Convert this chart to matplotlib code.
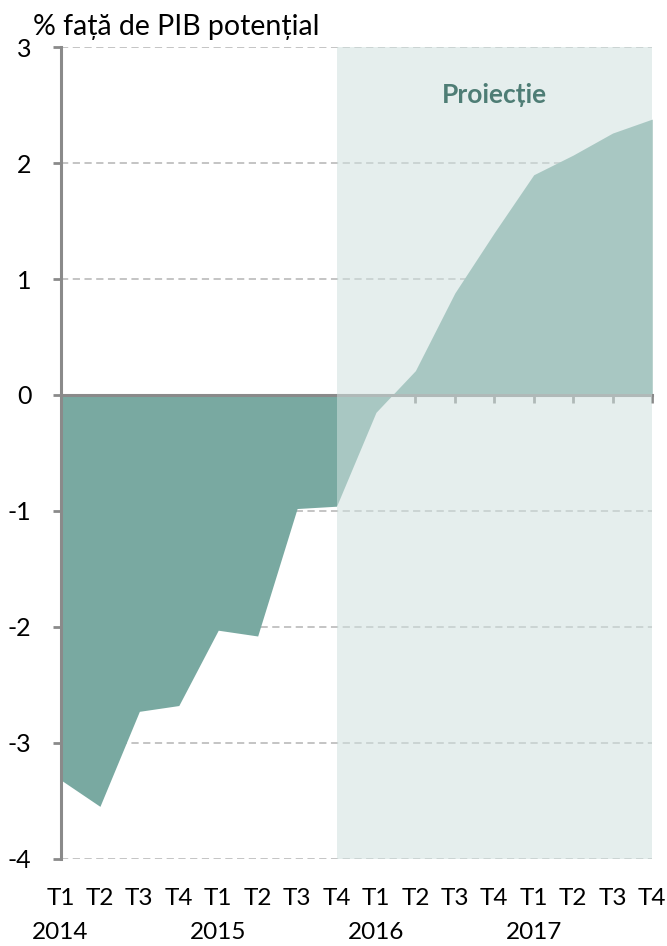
import matplotlib
matplotlib.use("Agg")
import matplotlib.pyplot as plt
import matplotlib.transforms as mtransforms

plt.rcParams['font.family'] = ['Lato', 'DejaVu Sans']
plt.rcParams['axes.unicode_minus'] = False

# quarterly output gap, % of potential GDP
quarters = ["T1", "T2", "T3", "T4"] * 4
years = ["2014", "2015", "2016", "2017"]
gap = [-3.32, -3.55, -2.73, -2.68,
       -2.03, -2.08, -0.98, -0.96,
       -0.15, 0.21, 0.88, 1.40,
       1.90, 2.07, 2.26, 2.38]
proj_start = 7  # T4 2015, projection shading starts here
yticks = [-4, -3, -2, -1, 0, 1, 2, 3]

fill_color = '#79a9a1'
axis_gray = '#8a8a8a'

fig = plt.figure(figsize=(6.67, 9.46), dpi=100)
ax = fig.add_axes([60.5 / 667, 1 - 858.5 / 946, (652 - 60.5) / 667, (858.5 - 47.3) / 946])

x = list(range(len(gap)))
ax.fill_between(x, 0, gap, color=fill_color, linewidth=0, zorder=2)

# dashed grid
for yv in yticks:
    if yv != 0:
        ax.axhline(yv, color='#bfbfbf', lw=1.3, ls=(0, (4, 2.5)), zorder=1)

# projection shading over everything
ax.axvspan(proj_start, len(gap) - 1, color='#d0e1df', alpha=0.55, lw=0, zorder=4)
ax.text(11, 2.59, "Proiecție", ha='center', va='center', fontsize=19,
        fontweight='bold', color='#4e7d75', zorder=5)

ax.set_xlim(0, len(gap) - 1)
ax.set_ylim(-4, 3)
ax.set_yticks(yticks)
ax.set_xticks(x[1:])
ax.set_xticklabels([])

for s in ['top', 'right']:
    ax.spines[s].set_visible(False)
ax.spines['left'].set_color(axis_gray)
ax.spines['left'].set_linewidth(2.2)
ax.spines['bottom'].set_position(('data', 0))
ax.spines['bottom'].set_color(axis_gray)
ax.spines['bottom'].set_linewidth(2.2)
ax.spines['left'].set_zorder(3)
ax.spines['bottom'].set_zorder(3)

ax.tick_params(axis='y', direction='out', length=6, width=2, color=axis_gray,
               labelsize=18, pad=15)
ax.tick_params(axis='x', direction='out', length=6, width=2, color=axis_gray)

# category labels below the plot
trans = mtransforms.blended_transform_factory(ax.transData, fig.transFigure)
for i, q in enumerate(quarters):
    ax.text(i, 1 - 898 / 946, q, transform=trans, ha='center', va='center',
            fontsize=17.5, clip_on=False)
for k, yr in enumerate(years):
    ax.text(k * 4, 1 - 932 / 946, yr, transform=trans, ha='center', va='center',
            fontsize=17.5, clip_on=False)

fig.text(33 / 667, 1 - 27 / 946, "% față de PIB potențial", ha='left', va='center',
         fontsize=20.5)

fig.savefig("out.png", dpi=100)
